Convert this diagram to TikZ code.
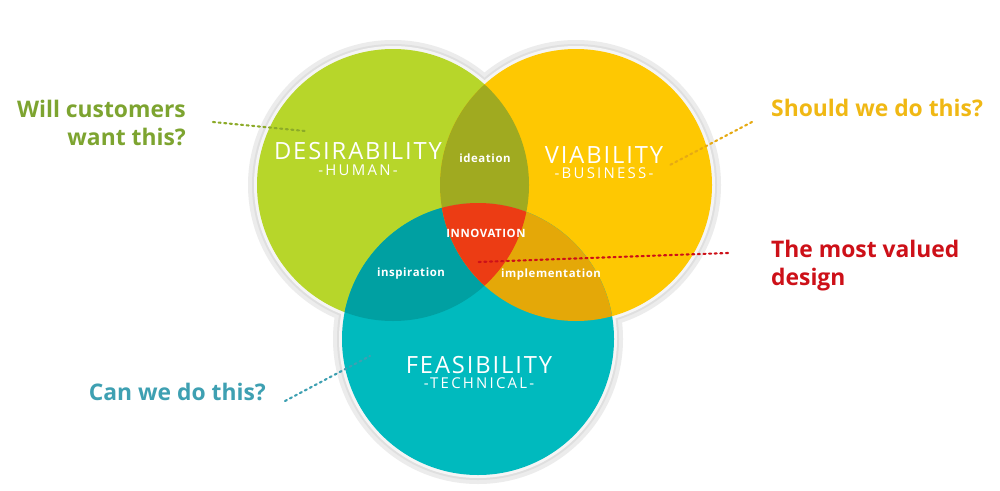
\documentclass[tikz,border=0pt]{standalone}
\usepackage{fontspec}
\setmainfont{Open Sans}
\begin{document}
\begin{tikzpicture}[x=0.02cm,y=-0.02cm,
  big/.style={text=white,font=\fontsize{13.5}{15}\selectfont\addfontfeature{LetterSpace=8},align=center},
  sub/.style={text=white,font=\fontsize{8.5}{10}\selectfont\addfontfeature{LetterSpace=15}},
  small/.style={text=white,font=\fontsize{6.5}{8}\selectfont\bfseries\addfontfeature{LetterSpace=5}},
  q/.style={font=\fontsize{13}{16}\selectfont\bfseries,align=left},
  dots/.style={dotted,line width=1.2pt,line cap=round}]
\useasboundingbox (0,0) rectangle (1000,490);
\fill[white] (0,0) rectangle (1000,490);
\def\G{(393,185) circle (136)}
\def\Y{(576,185) circle (136)}
\def\T{(478,339) circle (136)}
% halo
\fill[gray!15] (393,185) circle (145) (576,185) circle (145) (478,339) circle (145);
\fill[gray!25] (393,185) circle (141) (576,185) circle (141) (478,339) circle (141);
\fill[white!60!gray!20] (393,185) circle (139) (576,185) circle (139) (478,339) circle (139);
\fill[color={rgb,255:red,183;green,214;blue,42}] \G;
\fill[color={rgb,255:red,254;green,200;blue,2}] \Y;
\fill[color={rgb,255:red,0;green,186;blue,190}] \T;
\begin{scope}\clip \G; \fill[color={rgb,255:red,160;green,170;blue,32}] \Y; \end{scope}
\begin{scope}\clip \G; \fill[color={rgb,255:red,0;green,160;blue,162}] \T; \end{scope}
\begin{scope}\clip \Y; \fill[color={rgb,255:red,228;green,168;blue,8}] \T; \end{scope}
\begin{scope}\clip \G; \clip \Y; \fill[color={rgb,255:red,236;green,60;blue,20}] \T; \end{scope}
\node[big] (d) at (358,151) {DESIRABILITY};
\node[sub] (dh) at (358,170) {-HUMAN-};
\node[big] (v) at (604,155) {VIABILITY};
\node[sub] (vb) at (604,173) {-BUSINESS-};
\node[big] (f) at (479,365) {FEASIBILITY};
\node[sub] (ft) at (479,383) {-TECHNICAL-};
\node[small] (id) at (485,158) {ideation};
\node[small] (in) at (486,233) {INNOVATION};
\node[small] (insp) at (411,274) {inspiration};
\node[small] (impl) at (551,275) {implementation};
\node[q,text={rgb,255:red,125;green,164;blue,48},align=right,anchor=north east] (qg) at (192,94) {Will customers\\want this?};
\node[q,text={rgb,255:red,240;green,184;blue,20},anchor=west] (qy) at (765,108) {Should we do this?};
\node[q,text={rgb,255:red,205;green,16;blue,24},anchor=north west] (qr) at (765,234) {The most valued\\design};
\node[q,text={rgb,255:red,62;green,160;blue,178},anchor=east] (qt) at (272,392) {Can we do this?};
\coordinate (eg) at (305,131);
\coordinate (ey) at (668,166);
\coordinate (er) at (478,262);
\coordinate (et) at (370,356);
\coordinate (sg) at (213,122);
\coordinate (sy) at (752,122);
\coordinate (sr) at (728,253);
\coordinate (st) at (285,401);
\draw[dots,color={rgb,255:red,140;green,170;blue,40}] (sg) -- (eg);
\draw[dots,color={rgb,255:red,230;green,170;blue,20}] (sy) -- (ey);
\draw[dots,color={rgb,255:red,205;green,16;blue,24}] (sr) -- (er);
\draw[dots,color={rgb,255:red,62;green,160;blue,178}] (st) -- (et);
\end{tikzpicture}
\end{document}
